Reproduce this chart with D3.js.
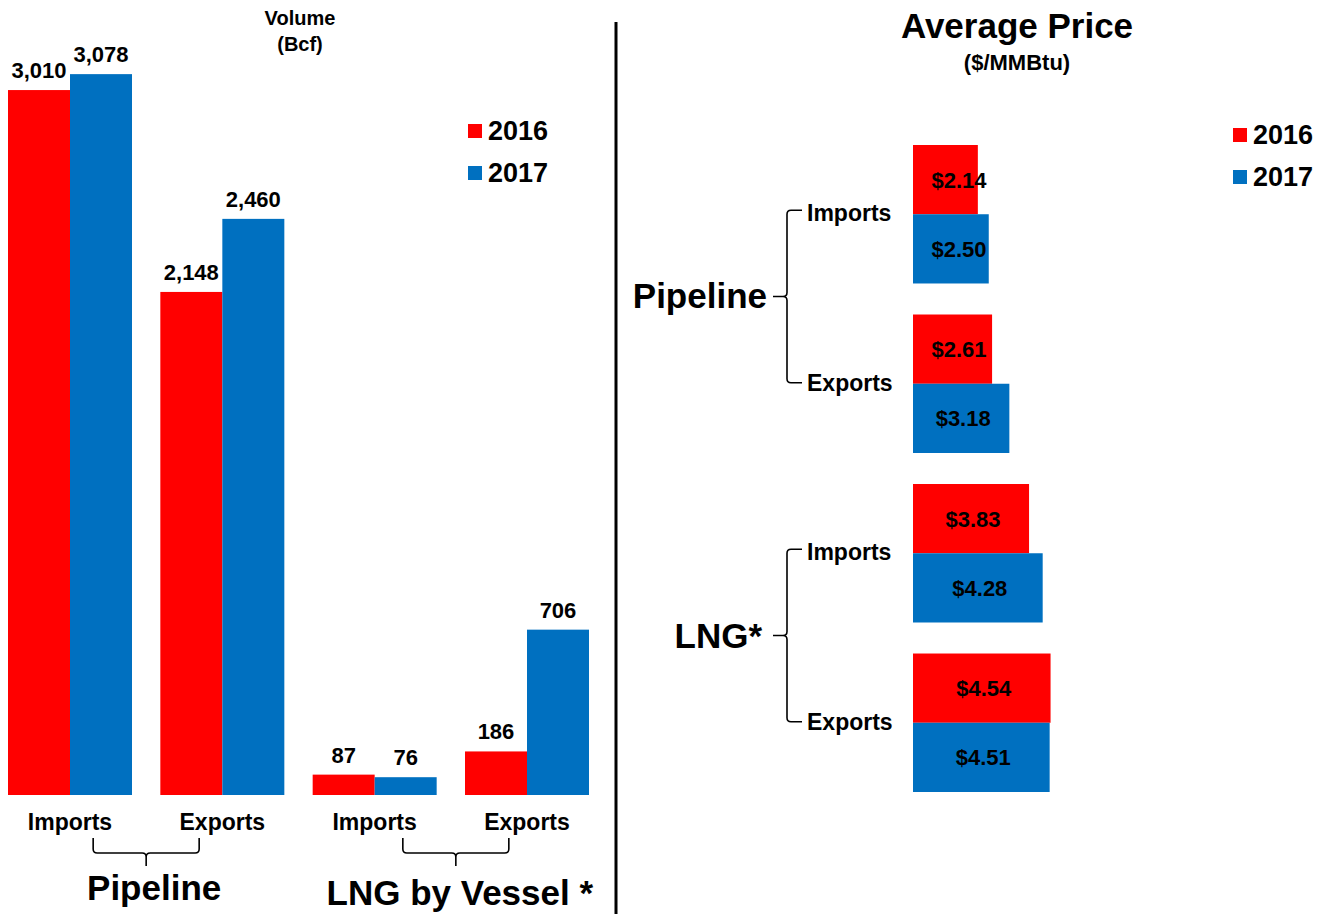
<!DOCTYPE html>
<html>
<head>
<meta charset="utf-8">
<script src="https://cdn.jsdelivr.net/npm/d3@7"></script>
<style>
  body { margin: 0; background: #fff; }
  svg { display: block; font-family: "Liberation Sans", Arial, sans-serif; font-weight: bold; }
</style>
</head>
<body>
<div id="chart"></div>
<script>
// Data
const groups = ["Pipeline Imports", "Pipeline Exports", "LNG Imports", "LNG Exports"];
const groupLabels = ["Imports", "Exports", "Imports", "Exports"];
const years = ["2016", "2017"];
const volume2016 = [3010, 2148, 87, 186];
const volume2017 = [3078, 2460, 76, 706];
const price2016 = [2.14, 2.61, 3.83, 4.54];
const price2017 = [2.50, 3.18, 4.28, 4.51];

const colors = ["#ff0000", "#0070c0"];

const width = 1324;
const height = 914;

const svg = d3.select("#chart")
  .append("svg")
  .attr("width", width)
  .attr("height", height);

// ---------Volume (left)----------

const baseY = 795;

const xVol = d3.scaleBand()
  .domain(groups)
  .range([8, 589])
  .paddingInner(0.186);

const xVolInner = d3.scaleBand()
  .domain(years)
  .range([0, xVol.bandwidth()]);

const yVol = d3.scaleLinear()
  .domain([0, 3400])
  .range([baseY, baseY - 3400 * 0.2342]);

const volRows = groups.map((g, i) => ({ group: g, values: [volume2016[i], volume2017[i]] }));

const volG = svg.selectAll(".volGroup")
  .data(volRows)
  .enter()
  .append("g")
  .attr("transform", d => `translate(${xVol(d.group)},0)`);

volG.selectAll("rect")
  .data(d => d.values.map((v, j) => ({ year: years[j], value: v, j })))
  .enter()
  .append("rect")
  .attr("x", d => xVolInner(d.year))
  .attr("y", d => yVol(d.value))
  .attr("width", xVolInner.bandwidth())
  .attr("height", d => baseY - yVol(d.value))
  .attr("fill", d => colors[d.j]);

volG.selectAll(".val")
  .data(d => d.values.map((v, j) => ({ year: years[j], value: v })))
  .enter()
  .append("text")
  .attr("x", d => xVolInner(d.year) + xVolInner.bandwidth() / 2)
  .attr("y", d => yVol(d.value) - 12)
  .attr("text-anchor", "middle")
  .style("font-size", "22px")
  .text(d => d3.format(",")(d.value));

// category labels
svg.selectAll(".volCat")
  .data(groups)
  .enter()
  .append("text")
  .attr("x", d => xVol(d) + xVol.bandwidth() / 2)
  .attr("y", 830)
  .attr("text-anchor", "middle")
  .style("font-size", "23px")
  .text((d, i) => groupLabels[i]);

// horizontal brackets under labels
function hBracket(xa, xb, y0, y1, tip) {
  const m = (xa + xb) / 2, r = 4;
  return `M${xa},${y0} V${y1 - r} Q${xa},${y1} ${xa + r},${y1} H${m - r} Q${m},${y1} ${m},${y1 + r} V${tip}` +
    ` M${m},${y1 + r} Q${m},${y1} ${m + r},${y1} H${xb - r} Q${xb},${y1} ${xb},${y1 - r} V${y0}`;
}

const bottomGroups = [
  { name: "Pipeline", a: groups[0], b: groups[1], shift: 0, tdx: 8, ty: 900 },
  { name: "LNG by Vessel *", a: groups[2], b: groups[3], shift: 5, tdx: 4, ty: 905 }
];

bottomGroups.forEach(bg => {
  const mid = (xVol(bg.a) + xVol(bg.b) + xVol.bandwidth()) / 2 + bg.shift;
  svg.append("path")
    .attr("d", hBracket(mid - 53, mid + 53, 838, 853, 866))
    .attr("fill", "none")
    .attr("stroke", "#000")
    .attr("stroke-width", 1.6);
  svg.append("text")
    .attr("x", mid + bg.tdx)
    .attr("y", bg.ty)
    .attr("text-anchor", "middle")
    .style("font-size", "35px")
    .text(bg.name);
});

// title
svg.append("text")
  .attr("x", 300).attr("y", 25)
  .attr("text-anchor", "middle")
  .style("font-size", "20px")
  .text("Volume");
svg.append("text")
  .attr("x", 300).attr("y", 51)
  .attr("text-anchor", "middle")
  .style("font-size", "20px")
  .text("(Bcf)");

// legend
function legend(x, y) {
  years.forEach((yr, i) => {
    svg.append("rect")
      .attr("x", x).attr("y", y + i * 42)
      .attr("width", 14).attr("height", 14)
      .attr("fill", colors[i]);
    svg.append("text")
      .attr("x", x + 20).attr("y", y + i * 42 + 16)
      .style("font-size", "27px")
      .text(yr);
  });
}
legend(468, 124);

// divider
svg.append("line")
  .attr("x1", 616).attr("x2", 616)
  .attr("y1", 22).attr("y2", 914)
  .attr("stroke", "#000")
  .attr("stroke-width", 3);

// ---------Average Price (right)----------

const x0 = 913;

const xPrice = d3.scaleLinear()
  .domain([0, 5])
  .range([x0, x0 + 5 * 30.3]);

const yPrice = d3.scaleBand()
  .domain(groups)
  .range([145, 792])
  .paddingInner(0.183);

const yPriceInner = d3.scaleBand()
  .domain(years)
  .range([0, yPrice.bandwidth()]);

const priceRows = groups.map((g, i) => ({ group: g, values: [price2016[i], price2017[i]] }));

const priceG = svg.selectAll(".priceGroup")
  .data(priceRows)
  .enter()
  .append("g")
  .attr("transform", d => `translate(0,${yPrice(d.group)})`);

priceG.selectAll("rect")
  .data(d => d.values.map((v, j) => ({ year: years[j], value: v, j })))
  .enter()
  .append("rect")
  .attr("x", x0)
  .attr("y", d => yPriceInner(d.year))
  .attr("width", d => xPrice(d.value) - x0)
  .attr("height", yPriceInner.bandwidth())
  .attr("fill", d => colors[d.j]);

priceG.selectAll(".val")
  .data(d => d.values.map((v, j) => ({ year: years[j], value: v })))
  .enter()
  .append("text")
  .attr("x", d => x0 + Math.max(xPrice(d.value) - x0, 88) / 2 + 2)
  .attr("y", d => yPriceInner(d.year) + yPriceInner.bandwidth() / 2 + 8)
  .attr("text-anchor", "middle")
  .style("font-size", "22px")
  .text(d => "$" + d3.format(".2f")(d.value));

// category labels
svg.selectAll(".priceCat")
  .data(groups)
  .enter()
  .append("text")
  .attr("x", 807)
  .attr("y", d => yPrice(d) + yPrice.bandwidth() / 2 + 7)
  .style("font-size", "23px")
  .text((d, i) => groupLabels[i]);

// vertical brackets
function vBracket(ya, yb, x1, x0b, tip) {
  const m = (ya + yb) / 2, r = 4;
  return `M${x1},${ya} H${x0b + r} Q${x0b},${ya} ${x0b},${ya + r} V${m - r} Q${x0b},${m} ${x0b - r},${m} H${tip}` +
    ` M${x0b - r},${m} Q${x0b},${m} ${x0b},${m + r} V${yb - r} Q${x0b},${yb} ${x0b + r},${yb} H${x1}`;
}

const sideGroups = [
  { name: "Pipeline", a: groups[0], b: groups[1], tx: 767 },
  { name: "LNG*", a: groups[2], b: groups[3], tx: 762 }
];

sideGroups.forEach(sg => {
  const ya = yPrice(sg.a) + yPrice.bandwidth() / 2 - 4;
  const yb = yPrice(sg.b) + yPrice.bandwidth() / 2 - 1;
  svg.append("path")
    .attr("d", vBracket(ya, yb, 802, 787, 773))
    .attr("fill", "none")
    .attr("stroke", "#000")
    .attr("stroke-width", 1.6);
  svg.append("text")
    .attr("x", sg.tx)
    .attr("y", (ya + yb) / 2 + 12)
    .attr("text-anchor", "end")
    .style("font-size", "35px")
    .text(sg.name);
});

// title
svg.append("text")
  .attr("x", 1017).attr("y", 38)
  .attr("text-anchor", "middle")
  .style("font-size", "35px")
  .text("Average Price");
svg.append("text")
  .attr("x", 1017).attr("y", 70)
  .attr("text-anchor", "middle")
  .style("font-size", "22px")
  .text("($/MMBtu)");

legend(1233, 128);
</script>
</body>
</html>
